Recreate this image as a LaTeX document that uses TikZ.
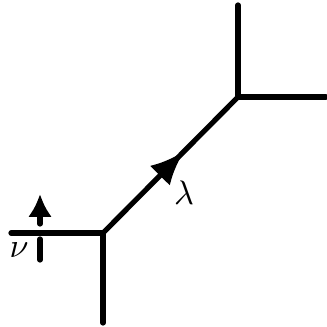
\documentclass[tikz,border=0pt]{standalone}
\usepackage{amsmath, amssymb}
\usepackage{tikz}
\usetikzlibrary{arrows.meta, decorations.markings}

\tikzset{
  leg/.style={line width=2.6pt, line cap=round},
  flow/.style={leg, postaction={decorate}, decoration={markings,
    mark=at position 0.6 with {\arrow{Latex[length=17pt,width=14pt]}}}}
}

\begin{document}
\begin{tikzpicture}[x=0.5pt,y=0.5pt]
\useasboundingbox (0,0) rectangle (327,327);

\coordinate (a) at (103,94);
\coordinate (b) at (238,230);

\coordinate (left) at (11,94);
\coordinate (down) at (103,4);
\coordinate (up) at (238,322);
\coordinate (right) at (326,230);

\coordinate (nutail) at (40,103);
\coordinate (nutip) at (40,133);
\coordinate (nutop) at (40,88);
\coordinate (nubot) at (40,67);

\node[scale=1.7] (nu) at (19,77) {$\nu$};
\node[scale=1.7] (lam) at (184,134) {$\lambda$};

\draw[leg] (left)--(a);
\draw[leg] (a)--(down);
\draw[flow] (a)--(b);
\draw[leg] (b)--(up);
\draw[leg] (b)--(right);

\draw[leg,-{Latex[length=11.5pt,width=12pt]}] (nutail)--(nutip);
\draw[leg] (nutop)--(nubot);
\end{tikzpicture}
\end{document}
